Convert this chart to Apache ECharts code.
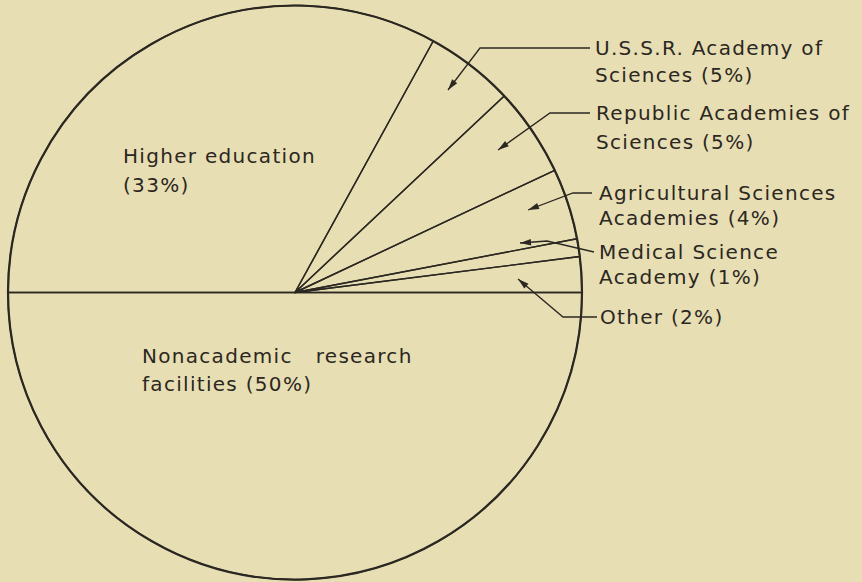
<!DOCTYPE html>
<html><head><meta charset="utf-8">
<script src="https://cdn.jsdelivr.net/npm/echarts@6/dist/echarts.min.js"></script>
<style>html,body{margin:0;padding:0;background:#e7deb4}#c{width:862px;height:582px}#c svg text{letter-spacing:1.3px}</style>
</head><body><div id="c"></div>
<script>
// ---- data ----
const categories = ['Higher education', 'U.S.S.R. Academy of Sciences', 'Republic Academies of Sciences',
  'Agricultural Sciences Academies', 'Medical Science Academy', 'Other', 'Nonacademic research facilities'];
const shares = [33, 5, 5, 4, 1, 2, 50];
const labelText = ['Higher education\n', 'U.S.S.R. Academy of\nSciences ', 'Republic Academies of\nSciences ',
  'Agricultural Sciences\nAcademies ', 'Medical Science\nAcademy ', 'Other ', 'Nonacademic   research\nfacilities '];

// ---- layout (label anchors, line heights, leader lines: tip, bend, end) ----
const INK = '#2b2721', BG = '#e7deb4';
const LAYOUT = [
  {x:123, y:141.5, lh:29},
  {x:595, y:34.5, lh:27, line:[[448,90],[480,48],[590,48]]},
  {x:596, y:98.5, lh:29, line:[[498,150],[550,113],[590,113]]},
  {x:599, y:180.5, lh:25, line:[[528,210],[573,193],[592,193]]},
  {x:599, y:239.5, lh:25, line:[[520,243],[547,241],[594,252]]},
  {x:600, y:303.5, lh:27, line:[[518,279],[563,317],[597,317]]},
  {x:142, y:342, lh:28}
];

const arrows = [];
LAYOUT.forEach(L => {
  if (!L.line) return;
  const T = L.line[0], B = L.line[1];
  let dx = T[0]-B[0], dy = T[1]-B[1]; const len = Math.hypot(dx,dy); dx/=len; dy/=len;
  const bx = T[0]-dx*11, by = T[1]-dy*11, nx = -dy*3.2, ny = dx*3.2;
  arrows.push({type:'polygon', silent:true, z:10,
    shape:{points:[[T[0],T[1]],[bx+nx,by+ny],[bx-nx,by-ny]]}, style:{fill:INK}});
});

const total = shares.reduce((a,b)=>a+b,0);
const chart = echarts.init(document.getElementById('c'), null, {renderer:'svg'});
chart.setOption({
  backgroundColor: BG,
  animation: false,
  graphic: arrows,
  series: [{
    type:'pie', center:[295,292.5], radius:287, startAngle:180, clockwise:true,
    avoidLabelOverlap:false, silent:true,
    itemStyle:{color:'rgba(0,0,0,0)', borderColor:INK, borderWidth:1.4},
    label:{show:true, position:'outside', color:INK, fontFamily:'DejaVu Sans', fontSize:20, lineHeight:27,
      formatter: p => labelText[p.dataIndex] + '(' + p.value + '%)'},
    labelLine:{show:true, lineStyle:{color:INK, width:1.3, opacity:1}},
    labelLayout: p => {
      const L = LAYOUT[p.dataIndex];
      const r = {x:L.x, y:L.y, align:'left', verticalAlign:'top'};
      if (L.line) r.labelLinePoints = L.line;
      return r;
    },
    data: categories.map((n,i)=>({name:n, value:shares[i],
      label:{lineHeight:LAYOUT[i].lh}, labelLine:{show:!!LAYOUT[i].line}}))
  }, {
    type:'pie', center:[295,292.5], radius:287, startAngle:180, silent:true,
    itemStyle:{color:'rgba(0,0,0,0)', borderColor:INK, borderWidth:2.2},
    label:{show:false}, labelLine:{show:false},
    data:[{name:'outline', value:total}]
  }]
});
</script></body></html>
